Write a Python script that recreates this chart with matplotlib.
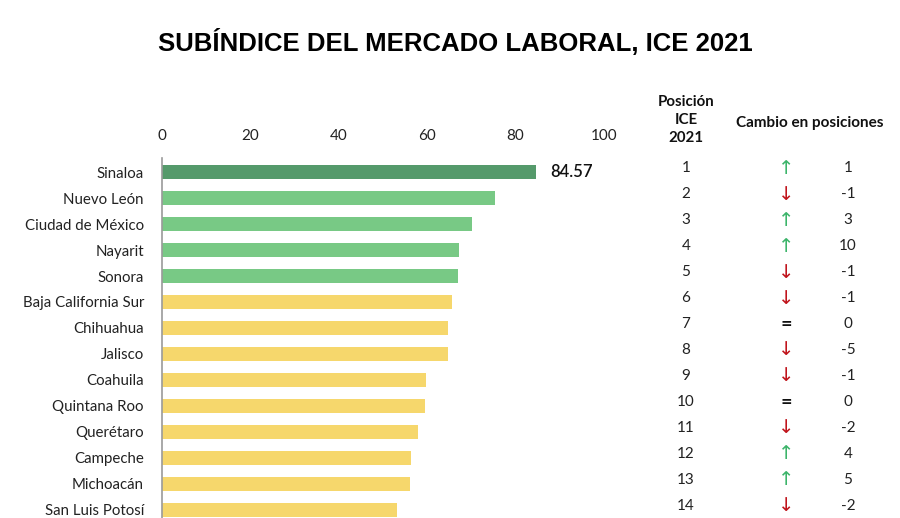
import matplotlib
matplotlib.use("Agg")
import matplotlib.pyplot as plt
import matplotlib.transforms as mtransforms

estados = ["Sinaloa", "Nuevo León", "Ciudad de México", "Nayarit", "Sonora",
           "Baja California Sur", "Chihuahua", "Jalisco", "Coahuila",
           "Quintana Roo", "Querétaro", "Campeche", "Michoacán", "San Luis Potosí"]
valores = [84.57, 75.3, 70.2, 67.2, 67.0, 65.5, 64.8, 64.8, 59.7, 59.5,
           57.9, 56.4, 56.0, 53.2]
posiciones = [1, 2, 3, 4, 5, 6, 7, 8, 9, 10, 11, 12, 13, 14]
cambios = [1, -1, 3, 10, -1, -1, 0, -5, -1, 0, -2, 4, 5, -2]
ticks_x = [0, 20, 40, 60, 80, 100]

VERDE_OSCURO = "#559a6b"
VERDE = "#78c985"
AMARILLO = "#f6d76c"

colores = []
for i, v in enumerate(valores):
    if i == 0:
        colores.append(VERDE_OSCURO)
    elif v >= 66.5:
        colores.append(VERDE)
    else:
        colores.append(AMARILLO)

fig = plt.figure(figsize=(9, 5.18), dpi=100)
ax = fig.add_axes([162 / 900, 0, 442 / 900, 360 / 518])

y = list(range(len(estados)))
ax.barh(y, valores, height=0.56, color=colores)
ax.set_xlim(0, 100)
ax.set_ylim(13.31, -0.54)
ax.set_yticks(y)
ax.set_yticklabels(estados, fontsize=10.8, family="Lato", color="#222222")
ax.set_xticks(ticks_x)
ax.set_xticklabels([str(t) for t in ticks_x], fontsize=11, family="Lato", color="#222222")
ax.xaxis.tick_top()
ax.tick_params(axis="x", length=0, pad=11)
ax.tick_params(axis="y", length=0, pad=13)
for s in ["top", "right", "bottom"]:
    ax.spines[s].set_visible(False)
ax.spines["left"].set_color("#9a9a9a")
ax.spines["left"].set_linewidth(1.2)

ax.text(valores[0] + 3.2, 0, f"{valores[0]:.2f}", va="center", ha="left",
        fontsize=12, fontweight="semibold", family="Lato", color="#111111")

# tabla de la derecha: x en figura, y en datos (un poco más arriba que las barras)
tr = mtransforms.blended_transform_factory(fig.transFigure, ax.transData)
tr = tr + mtransforms.ScaledTranslation(0, 4 / 100, fig.dpi_scale_trans)
for i, (p, c) in enumerate(zip(posiciones, cambios)):
    ax.text(686 / 900, i, str(p), transform=tr, ha="center", va="center",
            fontsize=11, family="Lato", color="#222222", clip_on=False)
    if c > 0:
        sim, col = "↑", "#3cb46a"
    elif c < 0:
        sim, col = "↓", "#c0141c"
    else:
        sim, col = "=", "#111111"
    ax.text(786 / 900, i, sim, transform=tr, ha="center", va="center",
            fontsize=14 if c != 0 else 10, fontweight="normal" if c != 0 else "bold",
            family=["DejaVu Sans"], color=col, clip_on=False)
    ax.text(848 / 900, i, str(c), transform=tr, ha="center", va="center",
            fontsize=11, family="Lato", color="#222222", clip_on=False)

fig.text(686 / 900, 1 - 120 / 518, "Posición\nICE\n2021", ha="center", va="center",
         fontsize=10.8, fontweight="bold", family="Lato", color="#111111",
         linespacing=1.35)
fig.text(810 / 900, 1 - 123 / 518, "Cambio en posiciones", ha="center", va="center",
         fontsize=11, fontweight="bold", family="Lato", color="#111111")

fig.text(455 / 900, 1 - 42 / 518, "SUBÍNDICE DEL MERCADO LABORAL, ICE 2021",
         ha="center", va="center", fontsize=18.5, fontweight="bold",
         family="Liberation Sans", color="black")

fig.savefig("out.png", dpi=100)
